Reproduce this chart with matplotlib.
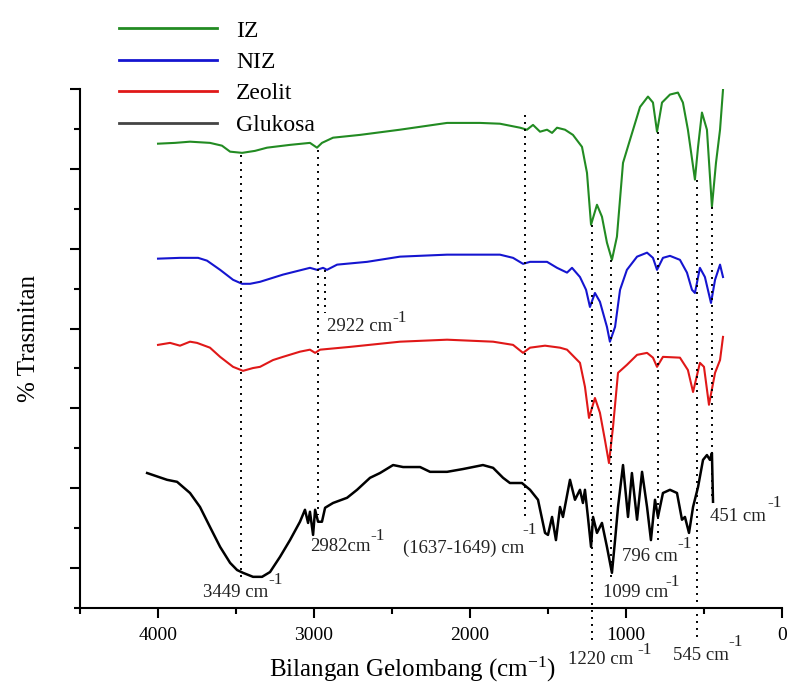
import matplotlib
matplotlib.use('Agg')
import matplotlib.pyplot as plt
from matplotlib.ticker import MultipleLocator, NullFormatter

plt.rcParams['font.family'] = ['Liberation Serif', 'DejaVu Serif']
plt.rcParams['mathtext.default'] = 'regular'

# spectra (wavenumber cm-1, offset transmittance)
iz_wn = [4000, 3891, 3795, 3667, 3590, 3538, 3461, 3378, 3301, 3154, 3026, 2981, 2949, 2878,
         2705, 2449, 2147, 1936, 1808, 1679, 1635, 1596, 1551, 1506, 1474, 1442, 1391, 1340,
         1282, 1250, 1224, 1186, 1154, 1122, 1090, 1058, 1019, 974, 910, 859, 827, 801, 769,
         718, 667, 635, 603, 558, 538, 513, 481, 449, 423, 397, 378]
iz_t = [116.3, 116.5, 116.8, 116.5, 115.8, 114.3, 114.0, 114.5, 115.3, 116.0, 116.5, 115.3, 116.5, 117.8,
        118.5, 119.8, 121.5, 121.5, 121.3, 120.3, 119.8, 121.0, 119.3, 119.8, 119.0, 120.3, 119.8, 118.5,
        115.5, 109.0, 96.0, 101.0, 98.0, 91.5, 87.2, 93.0, 111.5, 117.3, 125.5, 128.1, 126.6, 119.3, 126.6,
        128.6, 129.1, 126.6, 119.8, 107.3, 115.5, 124.1, 119.8, 100.5, 111.5, 119.8, 129.8]

niz_wn = [4000, 3859, 3743, 3686, 3602, 3519, 3461, 3410, 3346, 3199, 3026, 2981, 2942, 2917,
          2852, 2660, 2449, 2147, 1808, 1724, 1660, 1615, 1506, 1442, 1378, 1346, 1295, 1256,
          1231, 1199, 1167, 1122, 1103, 1070, 1038, 994, 929, 865, 827, 801, 763, 718, 654,
          609, 577, 558, 526, 494, 455, 429, 397, 378]
niz_t = [87.5, 87.7, 87.7, 87.0, 84.7, 82.2, 81.2, 81.2, 81.7, 83.5, 85.2, 84.7, 85.2, 84.7,
         86.0, 86.7, 88.0, 88.5, 88.5, 87.7, 86.2, 86.7, 86.7, 85.2, 84.0, 85.2, 82.9, 79.7,
         75.4, 78.9, 76.7, 70.4, 66.7, 70.4, 79.7, 84.7, 88.0, 89.0, 87.7, 84.7, 87.7, 88.2, 87.2,
         84.0, 79.7, 78.9, 85.2, 82.9, 76.4, 82.2, 86.0, 82.9]

zeo_wn = [4000, 3923, 3859, 3795, 3750, 3667, 3602, 3519, 3455, 3391, 3346, 3263, 3199, 3090,
          3026, 2993, 2961, 2769, 2449, 2147, 1852, 1724, 1660, 1615, 1519, 1423, 1378, 1295,
          1263, 1237, 1199, 1167, 1135, 1109, 1083, 1051, 994, 929, 865, 827, 801, 763, 654,
          603, 570, 526, 500, 468, 429, 397, 378]
zeo_t = [65.9, 66.4, 65.7, 66.7, 66.4, 65.2, 62.9, 60.4, 59.4, 60.1, 60.4, 62.1, 62.9, 64.2,
         64.7, 63.9, 64.7, 65.4, 66.7, 67.2, 66.7, 65.9, 63.9, 65.2, 65.7, 65.2, 64.7, 61.4,
         55.4, 47.6, 52.6, 48.9, 42.1, 36.3, 45.4, 58.9, 60.9, 63.4, 63.9, 62.7, 60.4, 62.9, 62.7,
         59.6, 54.1, 61.4, 60.4, 50.9, 58.9, 62.1, 67.9]

glu_wn = [4070, 3942, 3878, 3795, 3731, 3667, 3602, 3538, 3493, 3455, 3391, 3333, 3282, 3218,
          3154, 3090, 3058, 3038, 3026, 3006, 2993, 2974, 2949, 2929, 2878, 2788, 2724, 2641,
          2577, 2493, 2429, 2320, 2256, 2147, 2045, 1917, 1852, 1788, 1744, 1667, 1615, 1564,
          1519, 1500, 1474, 1449, 1423, 1404, 1359, 1327, 1295, 1276, 1263, 1244, 1224, 1211,
          1186, 1154, 1122, 1090, 1070, 1051, 1019, 987, 962, 929, 897, 865, 840, 814, 795,
          763, 718, 673, 641, 622, 596, 570, 538, 506, 481, 462, 449, 442]
glu_t = [33.8, 32.1, 31.6, 28.8, 25.3, 20.3, 15.3, 11.3, 9.5, 8.8, 7.8, 7.8, 9.0, 12.8,
         17.0, 21.6, 24.6, 21.3, 24.1, 18.3, 24.6, 21.6, 21.6, 25.1, 26.3, 27.6, 29.6, 32.6,
         33.8, 35.8, 35.3, 35.3, 34.1, 34.1, 34.8, 35.8, 35.1, 32.6, 31.3, 31.3, 29.6, 27.1,
         18.8, 18.3, 22.8, 17.0, 25.3, 22.8, 32.1, 27.1, 29.6, 26.3, 29.6, 22.8, 15.3, 22.8,
         18.8, 21.3, 15.3, 8.8, 17.0, 25.3, 35.8, 22.8, 33.8, 22.1, 34.1, 25.3, 17.0, 27.1, 22.8,
         28.8, 29.6, 28.8, 22.1, 22.8, 18.8, 25.3, 30.3, 37.1, 38.3, 37.1, 38.8, 26.6]

# dotted marker lines: wavenumber, top, bottom
mark_wn = [3465, 2975, 2929, 1650, 1218, 1096, 795, 545, 449]
mark_top = [113.5, 114.8, 84.7, 123.5, 96.0, 87.2, 119.3, 107.3, 100.5]
mark_bot = [6.5, 23.3, 73.9, 22.6, -8.0, 7.5, 17.0, -7.3, 27.0]

# peak labels: text, x, y, superscript x, superscript y
ann_txt = ['3449 cm', '2982cm', '2922 cm', '(1637-1649) cm', '796 cm', '1099 cm', '451 cm', '1220 cm', '545 cm']
ann_x = [3711, 3026, 2917, 2429, 1026, 1147, 462, 1372, 699]
ann_y = [4.0, 15.3, 70.4, 15.0, 12.8, 3.8, 22.8, -13.0, -11.8]
sup_x = [3295, 2641, 2500, 1667, 673, 750, 96, 929, 346]
sup_y = [7.0, 18.0, 72.7, 19.5, 16.0, 6.5, 26.3, -10.5, -8.5]

fig = plt.figure(figsize=(7.87, 6.93), dpi=100)
ax = fig.add_axes([0.1017, 0.1227, 0.8919, 0.7489])

ax.plot(iz_wn, iz_t, color='#228b22', lw=1.5, label='IZ')
ax.plot(niz_wn, niz_t, color='#1515d0', lw=1.5, label='NIZ')
ax.plot(zeo_wn, zeo_t, color='#e01818', lw=1.5, label='Zeolit')
ax.plot(glu_wn, glu_t, color='black', lw=1.8, label='Glukosa')

for w, t, b in zip(mark_wn, mark_top, mark_bot):
    ax.plot([w, w], [t, b], color='black', lw=1.4, ls=(0, (1, 2.6)), clip_on=False)

for s, x, y, sx, sy in zip(ann_txt, ann_x, ann_y, sup_x, sup_y):
    ax.text(x, y, s, fontsize=13.5, ha='left', va='center', color='#222222', clip_on=False)
    ax.text(sx, sy, '-1', fontsize=12.5, ha='left', va='center', color='#222222', clip_on=False)

ax.set_xlim(4500, 0)
ax.set_ylim(0, 130)
ax.xaxis.set_major_locator(MultipleLocator(1000))
ax.xaxis.set_minor_locator(MultipleLocator(500))
ax.yaxis.set_major_locator(MultipleLocator(20, offset=10))
ax.yaxis.set_minor_locator(MultipleLocator(10))
ax.yaxis.set_major_formatter(NullFormatter())
ax.tick_params(which='major', length=7.5, width=1.5, labelsize=14, pad=6)
ax.tick_params(which='minor', length=4, width=1.5)
for side in ['top', 'right']:
    ax.spines[side].set_visible(False)
for side in ['left', 'bottom']:
    ax.spines[side].set_linewidth(1.5)

ax.set_xlabel(r'Bilangan Gelombang (cm$^{-1}$)', fontsize=18)
ax.xaxis.set_label_coords(0.473, -0.09)
ax.set_ylabel('% Trasmitan', fontsize=18)
ax.yaxis.set_label_coords(-0.057, 0.52)

leg = ax.legend(loc='upper left', bbox_to_anchor=(119 / 787, 1 - 20 / 693), bbox_transform=fig.transFigure,
                frameon=False, fontsize=17, handlelength=4.15, handletextpad=0.8, labelspacing=0.42,
                borderpad=0, borderaxespad=0)
leg.legend_handles[3].set_color('#444444')
for h in leg.legend_handles:
    h.set_linewidth(2)

fig.savefig('out.png', dpi=100)
